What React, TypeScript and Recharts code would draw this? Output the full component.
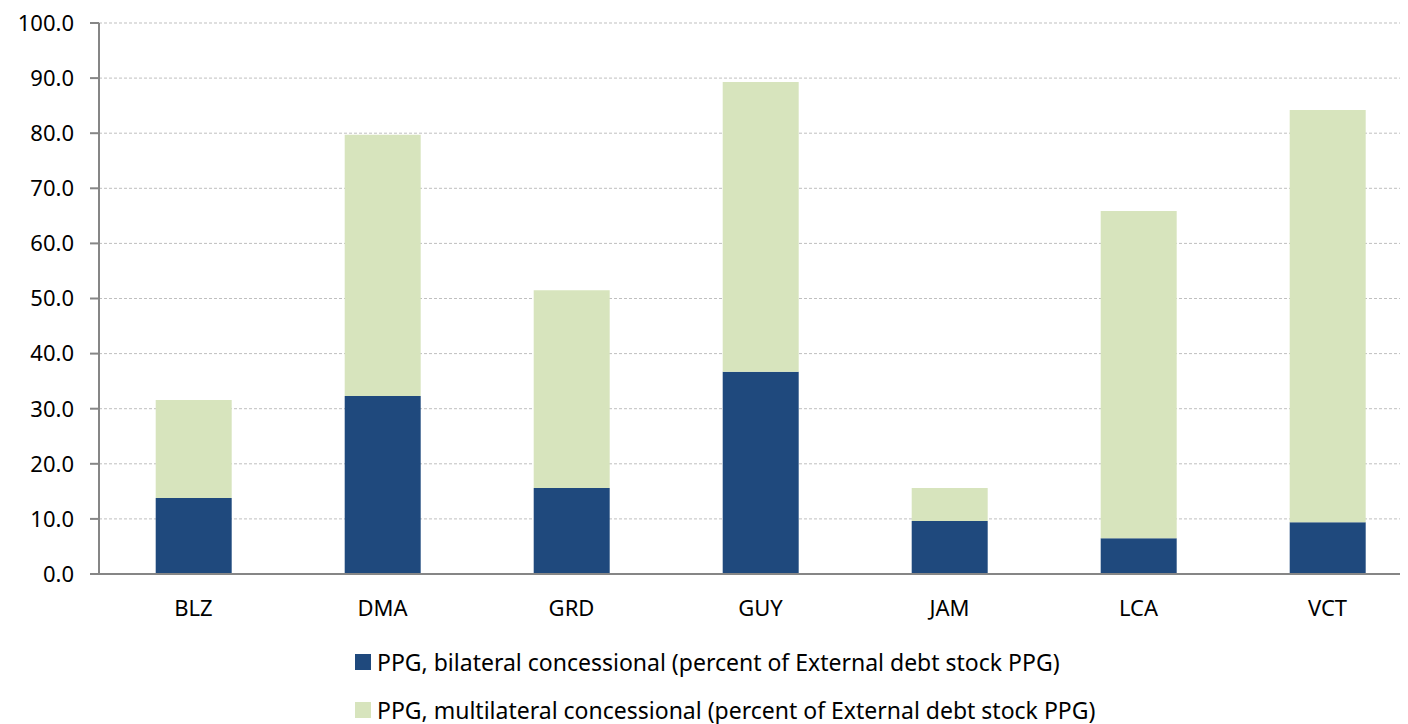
import React from "react";
import { BarChart, Bar, XAxis, YAxis, CartesianGrid, Legend } from "recharts";

const countries = ["BLZ", "DMA", "GRD", "GUY", "JAM", "LCA", "VCT"];
const bilateral = [13.8, 32.3, 15.6, 36.7, 9.6, 6.5, 9.4];
const multilateral = [17.8, 47.4, 35.9, 52.6, 6.0, 59.4, 74.8];
const yTicks = [0, 10, 20, 30, 40, 50, 60, 70, 80, 90, 100];
const edgeTicks = [0, 1, 2, 3, 4, 5, 6, 7];

const seriesNames = {
  bilateral: "PPG, bilateral concessional (percent of External debt stock PPG)",
  multilateral: "PPG, multilateral concessional (percent of External debt stock PPG)",
};

const BLUE = "#1F497D";
const GREEN = "#D7E4BD";
const AXIS = "#868686";
const FONT = "'Noto Sans', 'Open Sans', sans-serif";

const data = countries.map((c, i) => ({
  country: c,
  bilateral: bilateral[i],
  multilateral: multilateral[i],
}));

const LegendBox = () => (
  <div style={{ fontFamily: FONT, fontSize: 23, color: "#000", lineHeight: "28px" }}>
    {[
      { label: seriesNames.bilateral, color: BLUE },
      { label: seriesNames.multilateral, color: GREEN },
    ].map((item) => (
      <div key={item.label} style={{ display: "flex", alignItems: "center", height: 48 }}>
        <span style={{ width: 16, height: 16, background: item.color, marginRight: 6, display: "inline-block" }} />
        <span>{item.label}</span>
      </div>
    ))}
  </div>
);

const App: React.FC = () => {
  return (
    <div style={{ width: 1420, height: 716, fontFamily: FONT }}>
      <BarChart
        width={1420}
        height={716}
        data={data}
        margin={{ top: 15, right: 6, left: 0, bottom: 0 }}
        barCategoryGap="30%"
      >
        <CartesianGrid
          vertical={false}
          stroke="#BFBFBF"
          strokeDasharray="3 2"
          yAxisId="left"
          xAxisId="b"
        />
        {/* axis line with ticks on the category boundaries */}
        <XAxis
          xAxisId="a"
          type="number"
          domain={[0, 7]}
          ticks={edgeTicks}
          tick={false}
          tickSize={8}
          stroke={AXIS}
          strokeWidth={2}
          height={2}
        />
        <XAxis
          xAxisId="b"
          dataKey="country"
          axisLine={false}
          tickLine={false}
          tick={{ fill: "#000", fontSize: 22, fontFamily: FONT }}
          tickMargin={18}
          height={52}
        />
        <YAxis
          yAxisId="left"
          domain={[0, 100]}
          ticks={yTicks}
          tickFormatter={(v: number) => v.toFixed(1)}
          tick={{ fill: "#000", fontSize: 22, fontFamily: FONT }}
          tickSize={9}
          tickMargin={16}
          stroke={AXIS}
          strokeWidth={2}
          width={91}
        />
        <Legend
          verticalAlign="bottom"
          content={() => <LegendBox />}
          wrapperStyle={{ position: "absolute", left: 347, top: 630, width: "auto" }}
        />
        <Bar
          dataKey="bilateral"
          name={seriesNames.bilateral}
          stackId="a"
          fill={BLUE}
          xAxisId="b"
          yAxisId="left"
          isAnimationActive={false}
        />
        <Bar
          dataKey="multilateral"
          name={seriesNames.multilateral}
          stackId="a"
          fill={GREEN}
          xAxisId="b"
          yAxisId="left"
          isAnimationActive={false}
        />
      </BarChart>
    </div>
  );
};

export default App;
